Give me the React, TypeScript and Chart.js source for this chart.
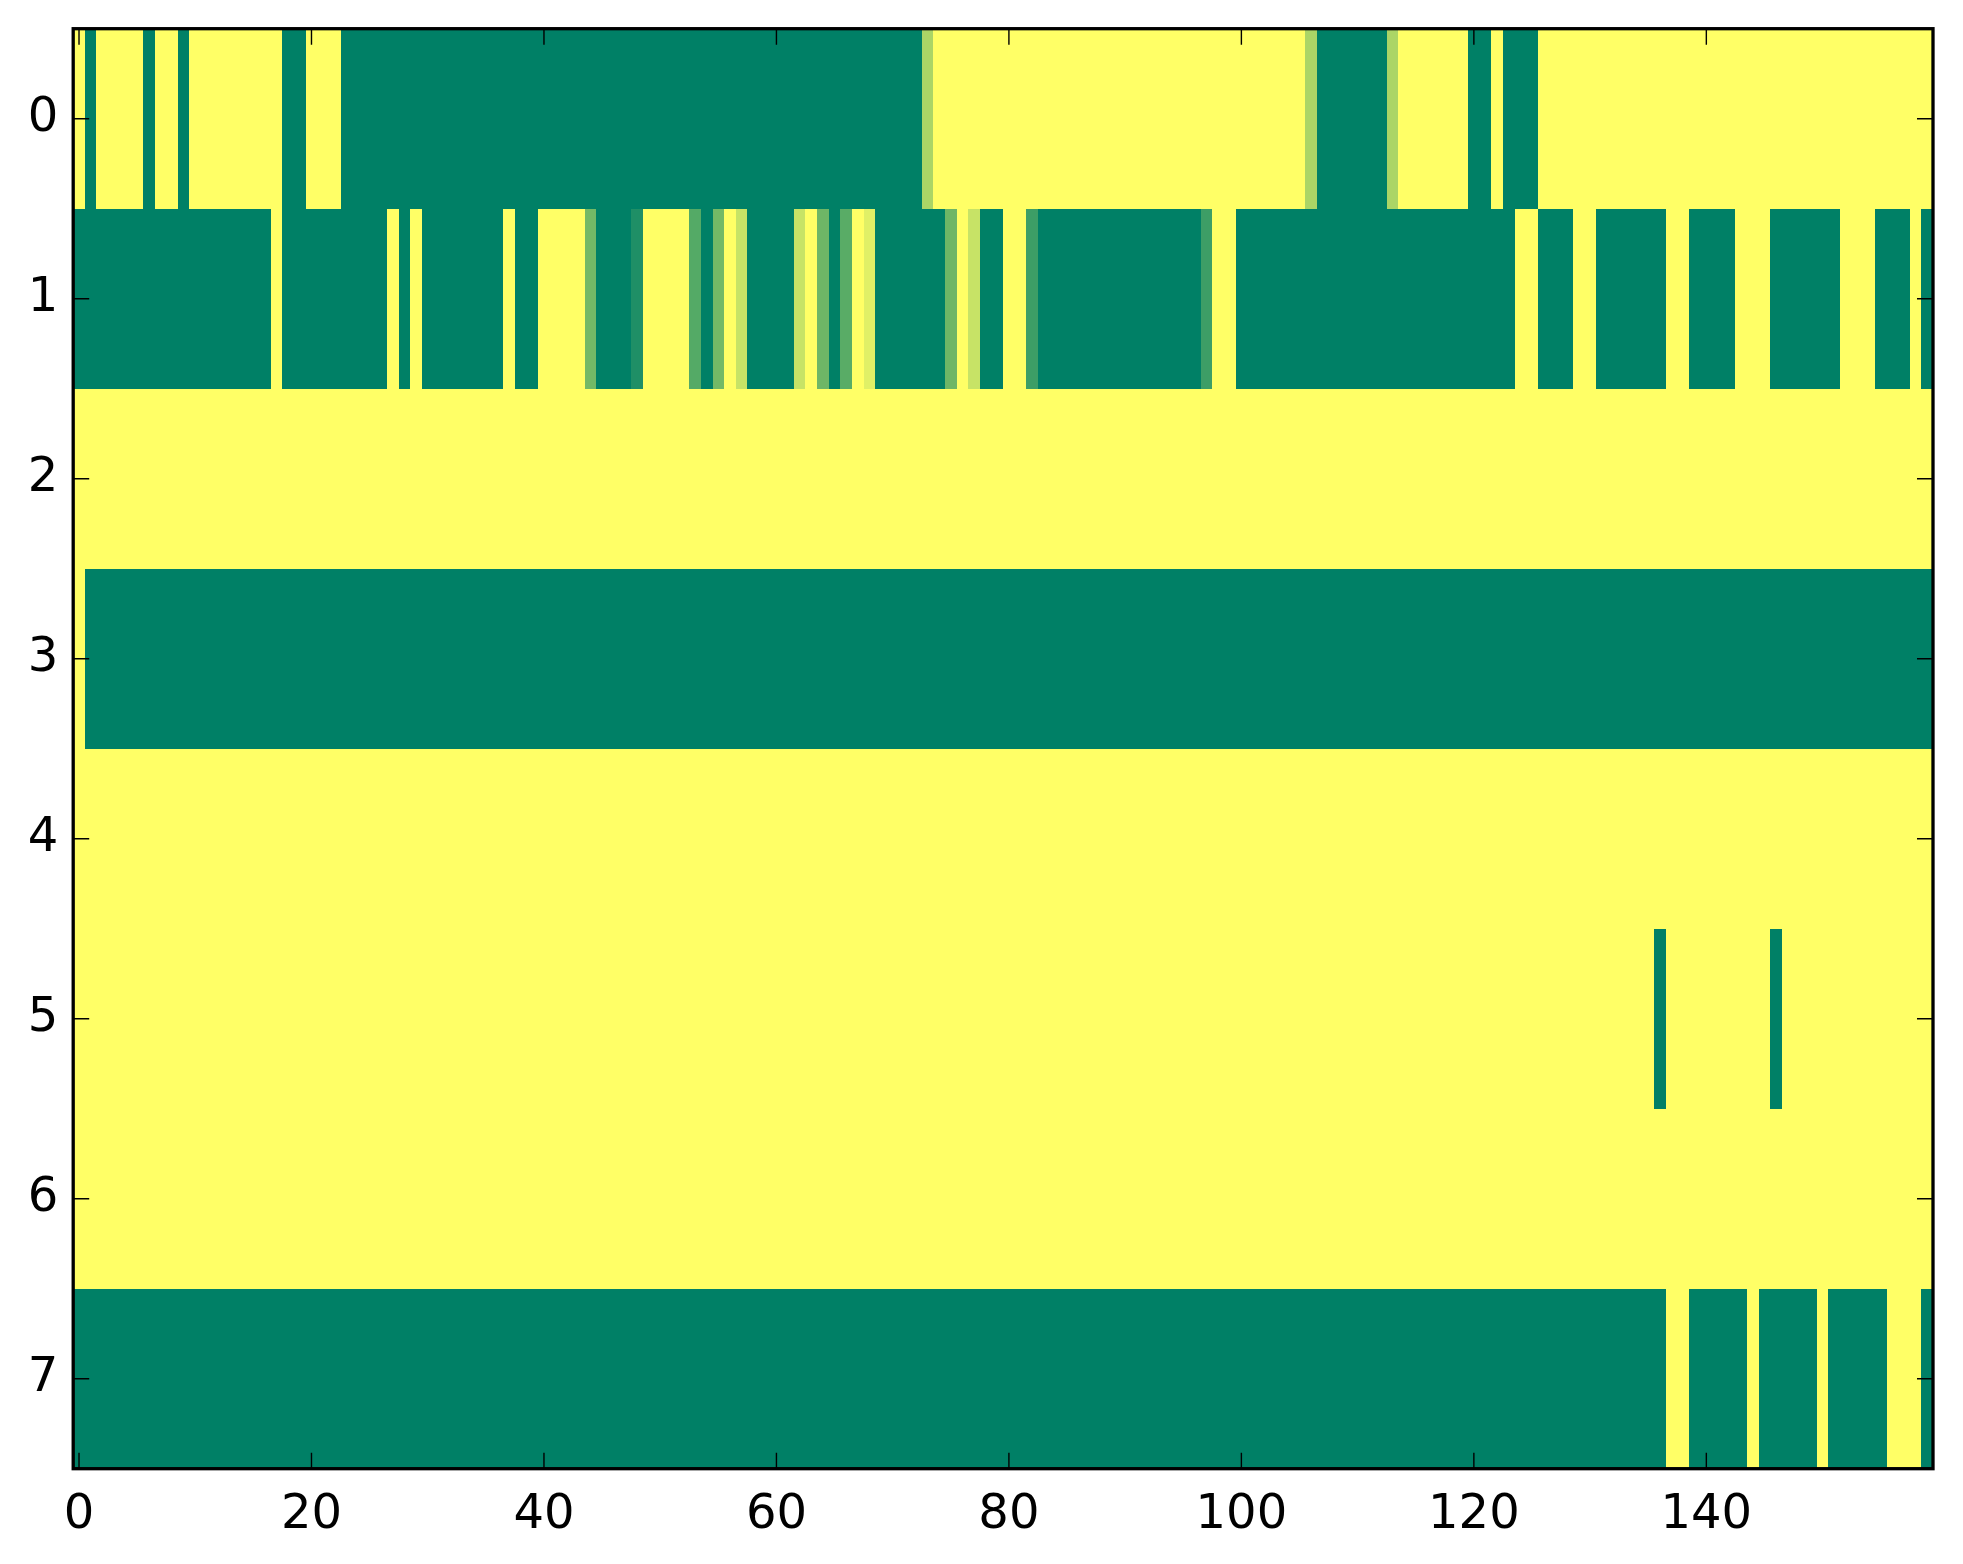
import React, { useEffect, useRef } from "react";
import { Chart, registerables } from "chart.js";

Chart.register(...registerables);

// Tick labels
const xTickValues = [0, 20, 40, 60, 80, 100, 120, 140];
const yTickValues = [0, 1, 2, 3, 4, 5, 6, 7];

// Heatmap rows (160 columns each), values in [0, 1]
const row0 = [
  1,0,1,1,1,1,0,1,1,0,1,1,1,1,1,1,1,1,0,0,
  1,1,1,0,0,0,0,0,0,0,0,0,0,0,0,0,0,0,0,0,
  0,0,0,0,0,0,0,0,0,0,0,0,0,0,0,0,0,0,0,0,
  0,0,0,0,0,0,0,0,0,0,0,0,0,0.67,1,1,1,1,1,1,
  1,1,1,1,1,1,1,1,1,1,1,1,1,1,1,1,1,1,1,1,
  1,1,1,1,1,1,0.67,0,0,0,0,0,0,0.67,1,1,1,1,1,1,
  0,0,1,0,0,0,1,1,1,1,1,1,1,1,1,1,1,1,1,1,
  1,1,1,1,1,1,1,1,1,1,1,1,1,1,1,1,1,1,1,1,
];
const row1 = [
  0,0,0,0,0,0,0,0,0,0,0,0,0,0,0,0,0,1,0,0,
  0,0,0,0,0,0,0,1,0,1,0,0,0,0,0,0,0,1,0,0,
  1,1,1,1,0.45,0,0,0,0.12,1,1,1,1,0.33,0,0.45,1,0.78,0,0,
  0,0,0.78,1,0.43,0,0.35,1,0.88,0,0,0,0,0,0,0.43,1,0.78,0,0,
  1,1,0.24,0,0,0,0,0,0,0,0,0,0,0,0,0,0,0.24,1,1,
  0,0,0,0,0,0,0,0,0,0,0,0,0,0,0,0,0,0,0,0,
  0,0,0,0,1,1,0,0,0,1,1,0,0,0,0,0,0,1,1,0,
  0,0,0,1,1,1,0,0,0,0,0,0,1,1,1,0,0,0,1,0,
];
const row2 = [
  1,1,1,1,1,1,1,1,1,1,1,1,1,1,1,1,1,1,1,1,
  1,1,1,1,1,1,1,1,1,1,1,1,1,1,1,1,1,1,1,1,
  1,1,1,1,1,1,1,1,1,1,1,1,1,1,1,1,1,1,1,1,
  1,1,1,1,1,1,1,1,1,1,1,1,1,1,1,1,1,1,1,1,
  1,1,1,1,1,1,1,1,1,1,1,1,1,1,1,1,1,1,1,1,
  1,1,1,1,1,1,1,1,1,1,1,1,1,1,1,1,1,1,1,1,
  1,1,1,1,1,1,1,1,1,1,1,1,1,1,1,1,1,1,1,1,
  1,1,1,1,1,1,1,1,1,1,1,1,1,1,1,1,1,1,1,1,
];
const row3 = [
  1,0,0,0,0,0,0,0,0,0,0,0,0,0,0,0,0,0,0,0,
  0,0,0,0,0,0,0,0,0,0,0,0,0,0,0,0,0,0,0,0,
  0,0,0,0,0,0,0,0,0,0,0,0,0,0,0,0,0,0,0,0,
  0,0,0,0,0,0,0,0,0,0,0,0,0,0,0,0,0,0,0,0,
  0,0,0,0,0,0,0,0,0,0,0,0,0,0,0,0,0,0,0,0,
  0,0,0,0,0,0,0,0,0,0,0,0,0,0,0,0,0,0,0,0,
  0,0,0,0,0,0,0,0,0,0,0,0,0,0,0,0,0,0,0,0,
  0,0,0,0,0,0,0,0,0,0,0,0,0,0,0,0,0,0,0,0,
];
const row4 = [
  1,1,1,1,1,1,1,1,1,1,1,1,1,1,1,1,1,1,1,1,
  1,1,1,1,1,1,1,1,1,1,1,1,1,1,1,1,1,1,1,1,
  1,1,1,1,1,1,1,1,1,1,1,1,1,1,1,1,1,1,1,1,
  1,1,1,1,1,1,1,1,1,1,1,1,1,1,1,1,1,1,1,1,
  1,1,1,1,1,1,1,1,1,1,1,1,1,1,1,1,1,1,1,1,
  1,1,1,1,1,1,1,1,1,1,1,1,1,1,1,1,1,1,1,1,
  1,1,1,1,1,1,1,1,1,1,1,1,1,1,1,1,1,1,1,1,
  1,1,1,1,1,1,1,1,1,1,1,1,1,1,1,1,1,1,1,1,
];
const row5 = [
  1,1,1,1,1,1,1,1,1,1,1,1,1,1,1,1,1,1,1,1,
  1,1,1,1,1,1,1,1,1,1,1,1,1,1,1,1,1,1,1,1,
  1,1,1,1,1,1,1,1,1,1,1,1,1,1,1,1,1,1,1,1,
  1,1,1,1,1,1,1,1,1,1,1,1,1,1,1,1,1,1,1,1,
  1,1,1,1,1,1,1,1,1,1,1,1,1,1,1,1,1,1,1,1,
  1,1,1,1,1,1,1,1,1,1,1,1,1,1,1,1,1,1,1,1,
  1,1,1,1,1,1,1,1,1,1,1,1,1,1,1,1,0,1,1,1,
  1,1,1,1,1,1,0,1,1,1,1,1,1,1,1,1,1,1,1,1,
];
const row6 = [
  1,1,1,1,1,1,1,1,1,1,1,1,1,1,1,1,1,1,1,1,
  1,1,1,1,1,1,1,1,1,1,1,1,1,1,1,1,1,1,1,1,
  1,1,1,1,1,1,1,1,1,1,1,1,1,1,1,1,1,1,1,1,
  1,1,1,1,1,1,1,1,1,1,1,1,1,1,1,1,1,1,1,1,
  1,1,1,1,1,1,1,1,1,1,1,1,1,1,1,1,1,1,1,1,
  1,1,1,1,1,1,1,1,1,1,1,1,1,1,1,1,1,1,1,1,
  1,1,1,1,1,1,1,1,1,1,1,1,1,1,1,1,1,1,1,1,
  1,1,1,1,1,1,1,1,1,1,1,1,1,1,1,1,1,1,1,1,
];
const row7 = [
  0,0,0,0,0,0,0,0,0,0,0,0,0,0,0,0,0,0,0,0,
  0,0,0,0,0,0,0,0,0,0,0,0,0,0,0,0,0,0,0,0,
  0,0,0,0,0,0,0,0,0,0,0,0,0,0,0,0,0,0,0,0,
  0,0,0,0,0,0,0,0,0,0,0,0,0,0,0,0,0,0,0,0,
  0,0,0,0,0,0,0,0,0,0,0,0,0,0,0,0,0,0,0,0,
  0,0,0,0,0,0,0,0,0,0,0,0,0,0,0,0,0,0,0,0,
  0,0,0,0,0,0,0,0,0,0,0,0,0,0,0,0,0,1,1,0,
  0,0,0,0,1,0,0,0,0,0,1,0,0,0,0,0,1,1,1,0,
];

const rows = [row0, row1, row2, row3, row4, row5, row6, row7];

// matplotlib "summer" colormap
function summer(v: number): string {
  const r = Math.round(255 * v);
  const g = Math.round(127.5 + 127.5 * v);
  return `rgb(${r},${g},102)`;
}

const heatmapPlugin = {
  id: "heatmapCells",
  beforeDatasetsDraw(chart: any) {
    const { ctx } = chart;
    const xs = chart.scales.x;
    const ys = chart.scales.y;
    const data = chart.data.datasets[0].data as { x: number; y: number; v: number }[];
    ctx.save();
    ctx.imageSmoothingEnabled = false;
    for (const d of data) {
      const xa = Math.round(xs.getPixelForValue(d.x - 0.5));
      const xb = Math.round(xs.getPixelForValue(d.x + 0.5));
      const ya = Math.round(ys.getPixelForValue(d.y - 0.5));
      const yb = Math.round(ys.getPixelForValue(d.y + 0.5));
      const x0 = Math.min(xa, xb);
      const y0 = Math.min(ya, yb);
      ctx.fillStyle = summer(d.v);
      ctx.fillRect(x0, y0, Math.abs(xb - xa), Math.abs(yb - ya));
    }
    ctx.restore();
  },
};

const framePlugin = {
  id: "frameAndTicks",
  afterDraw(chart: any) {
    const { ctx, chartArea } = chart;
    const { left, right, top, bottom } = chartArea;
    const xs = chart.scales.x;
    const ys = chart.scales.y;
    const tl = 16;
    ctx.save();
    ctx.strokeStyle = "#000";
    ctx.lineWidth = 1.4;
    ctx.beginPath();
    for (const v of xTickValues) {
      const px = xs.getPixelForValue(v);
      ctx.moveTo(px, bottom);
      ctx.lineTo(px, bottom - tl);
      ctx.moveTo(px, top);
      ctx.lineTo(px, top + tl);
    }
    for (const v of yTickValues) {
      const py = ys.getPixelForValue(v);
      ctx.moveTo(left, py);
      ctx.lineTo(left + tl, py);
      ctx.moveTo(right, py);
      ctx.lineTo(right - tl, py);
    }
    ctx.stroke();
    ctx.lineWidth = 3.3;
    ctx.strokeRect(left, top, right - left, bottom - top);
    ctx.restore();
  },
};

export default function App() {
  const canvasRef = useRef<HTMLCanvasElement | null>(null);

  useEffect(() => {
    const canvas = canvasRef.current;
    if (!canvas) return;
    const cells: { x: number; y: number; v: number }[] = [];
    rows.forEach((row, r) => {
      row.forEach((v, c) => {
        cells.push({ x: c, y: r, v });
      });
    });

    const tickFont = { family: "'DejaVu Sans', sans-serif", size: 48 };

    const chart = new Chart(canvas, {
      type: "scatter",
      data: {
        datasets: [
          {
            data: cells as any,
            pointRadius: 0,
            pointHoverRadius: 0,
            showLine: false,
          },
        ],
      },
      options: {
        animation: false,
        responsive: false,
        maintainAspectRatio: false,
        events: [],
        layout: { padding: { top: 28.7, right: 30, bottom: 0, left: 0 } },
        plugins: {
          legend: { display: false },
          tooltip: { enabled: false },
          title: { display: false },
        },
        scales: {
          x: {
            type: "linear",
            min: -0.5,
            max: 159.5,
            grid: { display: false, drawTicks: false },
            border: { display: false },
            afterBuildTicks: (scale: any) => {
              scale.ticks = xTickValues.map((v) => ({ value: v }));
            },
            afterFit: (scale: any) => {
              scale.height = 95.3;
              scale.paddingLeft = 0;
              scale.paddingRight = 0;
              scale.paddingTop = 0;
              scale.paddingBottom = 0;
            },
            ticks: {
              autoSkip: false,
              maxRotation: 0,
              minRotation: 0,
              padding: 18,
              color: "#000",
              font: tickFont,
              callback: (v: any) => String(v),
            },
          },
          y: {
            type: "linear",
            reverse: true,
            min: -0.5,
            max: 7.5,
            grid: { display: false, drawTicks: false },
            border: { display: false },
            afterBuildTicks: (scale: any) => {
              scale.ticks = yTickValues.map((v) => ({ value: v }));
            },
            afterFit: (scale: any) => {
              scale.width = 73.2;
              scale.paddingLeft = 0;
              scale.paddingRight = 0;
              scale.paddingTop = 0;
              scale.paddingBottom = 0;
            },
            ticks: {
              autoSkip: false,
              padding: 15,
              color: "#000",
              font: tickFont,
              callback: (v: any) => String(v),
            },
          },
        },
      },
      plugins: [heatmapPlugin, framePlugin],
    });

    return () => {
      chart.destroy();
    };
  }, []);

  return (
    <div style={{ position: "fixed", left: 0, top: 0, width: 1963, height: 1564, background: "#fff" }}>
      <canvas ref={canvasRef} width={1963} height={1564} style={{ width: 1963, height: 1564, display: "block" }} />
    </div>
  );
}
